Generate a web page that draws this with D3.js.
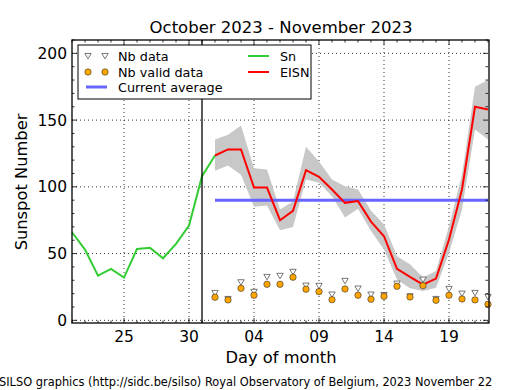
<!DOCTYPE html>
<html><head><meta charset="utf-8">
<script src="https://cdn.jsdelivr.net/npm/d3@7"></script>
<style>body{margin:0;background:#fff}svg{display:block}text{font-family:"DejaVu Sans",sans-serif}</style>
</head><body><svg id="c" width="515" height="390"></svg>
<script>
// Day offsets from Oct 21, 2023
const snDays = [0,1,2,3,4,5,6,7,8,9,10,11];
const snValues = [66,53,33.5,38.5,32,53.5,54.3,46.5,57.3,71,108,123.5];
const eisnDays = [11,12,13,14,15,16,17,18,19,20,21,22,23,24,25,26,27,28,29,30,31,32];
const eisnValues = [123.5,128,128,99.5,99.5,75,82,112.5,107.5,98,88,89.3,74,63,38.5,32.5,26.8,31.3,60.5,98,160,158];
const eisnUpper = [135.5,139,146,114,113,83,89,130,119,105.5,100.5,98,82,72,48,42,32,37,70.5,109,175,180];
const eisnLower = [112,116,109,85,86,67.5,70,105.5,103,93,77,83.5,67,53,30.5,24,22,24.5,50.5,83,143,135.5];
const nbData = [20.5,16,28.5,21.3,32.5,33.3,36.3,26,25.8,19.3,29.5,23.8,19.3,19,27.5,18,30.5,16,23.5,20,20.5,17.5];
const nbValid = [17.3,15.3,24,18.8,27,27,32.3,23.3,21.5,15.5,23.5,18.8,15.8,18,25.5,17.5,26,15,18.8,16,15.3,12];
const currentAverage = 90;
const avgRange = [11,32];
const xTickDays = [4,9,14,19,24,29];
const xTickLabels = ["25","30","04","09","14","19"];
const yTicks = [0,50,100,150,200];
const markerLine = 10; // Oct 31

const svg = d3.select("#c");
const L=72,R=488,T=40,B=323;
const x = d3.scaleLinear().domain([0,32]).range([L,R]);
const y = d3.scaleLinear().domain([-2,210]).range([B,T]);

// grid
const g = svg.append("g");
xTickDays.forEach(d=>g.append("line").attr("x1",x(d)).attr("x2",x(d)).attr("y1",T).attr("y2",B)
  .attr("stroke","#000").attr("stroke-width",0.8).attr("stroke-dasharray","1,3"));
yTicks.forEach(v=>g.append("line").attr("x1",L).attr("x2",R).attr("y1",y(v)).attr("y2",y(v))
  .attr("stroke","#000").attr("stroke-width",0.8).attr("stroke-dasharray","1,3"));

// band
const band = eisnDays.map((d,i)=>({d,u:eisnUpper[i],l:eisnLower[i]}));
svg.append("path").datum(band).attr("fill","#c8c8c8").attr("stroke","none")
  .attr("d",d3.area().x(p=>x(p.d)).y0(p=>y(p.l)).y1(p=>y(p.u)));

// average
svg.append("line").attr("x1",x(avgRange[0])).attr("x2",x(avgRange[1])).attr("y1",y(currentAverage)).attr("y2",y(currentAverage))
  .attr("stroke","#6666ff").attr("stroke-width",3);

// Sn
svg.append("path").datum(snDays.map((d,i)=>[d,snValues[i]])).attr("fill","none").attr("stroke","#33cc33").attr("stroke-width",2)
  .attr("d",d3.line().x(p=>x(p[0])).y(p=>y(p[1])));
// EISN
svg.append("path").datum(eisnDays.map((d,i)=>[d,eisnValues[i]])).attr("fill","none").attr("stroke","#ff0000").attr("stroke-width",2)
  .attr("d",d3.line().x(p=>x(p[0])).y(p=>y(p[1])));

// vertical marker
svg.append("line").attr("x1",x(markerLine)).attr("x2",x(markerLine)).attr("y1",T).attr("y2",B).attr("stroke","#000").attr("stroke-width",1.3);

function tri(cx,cy){const s=3.2;return `M${cx-s},${cy-s*0.8}L${cx+s},${cy-s*0.8}L${cx},${cy+s*0.9}Z`;}
eisnDays.forEach((d,i)=>{
  svg.append("path").attr("d",tri(x(d),y(nbData[i]))).attr("fill","#fff").attr("stroke","#555").attr("stroke-width",0.8);
});
eisnDays.forEach((d,i)=>{
  svg.append("circle").attr("cx",x(d)).attr("cy",y(nbValid[i])).attr("r",3.2).attr("fill","#ffa500").attr("stroke","#333").attr("stroke-width",0.6);
});

// frame
svg.append("rect").attr("x",L).attr("y",T).attr("width",R-L+1).attr("height",B-T).attr("fill","none").attr("stroke","#000").attr("stroke-width",1.3);

// ticks
const tk = svg.append("g").attr("stroke","#000").attr("stroke-width",0.8);
for(let d=0; d<=32; d++){
  const major = xTickDays.includes(d); const len = major?5:2.5;
  tk.append("line").attr("x1",x(d)).attr("x2",x(d)).attr("y1",B).attr("y2",B-len);
  tk.append("line").attr("x1",x(d)).attr("x2",x(d)).attr("y1",T).attr("y2",T+len);
}
for(let v=0; v<=210; v+=10){
  const major = v%50===0; const len = major?5:2.5;
  tk.append("line").attr("x1",L).attr("x2",L+len).attr("y1",y(v)).attr("y2",y(v));
  tk.append("line").attr("x1",R).attr("x2",R-len).attr("y1",y(v)).attr("y2",y(v));
}
xTickDays.forEach((d,i)=>svg.append("text").attr("x",x(d)).attr("y",B+19).attr("text-anchor","middle").attr("font-size",15.5).text(xTickLabels[i]));
yTicks.forEach(v=>svg.append("text").attr("x",L-5).attr("y",y(v)+5.5).attr("text-anchor","end").attr("font-size",15.5).text(v));

svg.append("text").attr("x",281).attr("y",33).attr("text-anchor","middle").attr("font-size",16.5).text("October 2023 - November 2023");
svg.append("text").attr("x",281).attr("y",363).attr("text-anchor","middle").attr("font-size",16.3).text("Day of month");
svg.append("text").attr("transform","translate(27,182) rotate(-90)").attr("text-anchor","middle").attr("font-size",16.3).text("Sunspot Number");
svg.append("text").attr("x",-1).attr("y",386).attr("font-family","'DejaVu Serif',serif").attr("font-size",11.4).text("SILSO graphics (http://sidc.be/silso) Royal Observatory of Belgium, 2023 November 22");

// legend
const lg = svg.append("g");
lg.append("rect").attr("x",78).attr("y",45).attr("width",233).attr("height",54).attr("fill","#fff").attr("stroke","#000").attr("stroke-width",1);
[88,105].forEach(cx=>{
  lg.append("path").attr("d",tri(cx,56)).attr("fill","#fff").attr("stroke","#555").attr("stroke-width",0.8);
  lg.append("circle").attr("cx",cx).attr("cy",72).attr("r",3.2).attr("fill","#ffa500").attr("stroke","#333").attr("stroke-width",0.6);
});
lg.append("line").attr("x1",86).attr("x2",107).attr("y1",87).attr("y2",87).attr("stroke","#6666ff").attr("stroke-width",3);
lg.append("line").attr("x1",248).attr("x2",269).attr("y1",56).attr("y2",56).attr("stroke","#33cc33").attr("stroke-width",2);
lg.append("line").attr("x1",248).attr("x2",269).attr("y1",72).attr("y2",72).attr("stroke","#ff0000").attr("stroke-width",2);
const lt=[[118,60.5,"Nb data"],[118,76.5,"Nb valid data"],[118,92,"Current average"],[280,60.5,"Sn"],[280,76.5,"EISN"]];
lt.forEach(t=>lg.append("text").attr("x",t[0]).attr("y",t[1]).attr("font-size",12.8).text(t[2]));
</script></body></html>
